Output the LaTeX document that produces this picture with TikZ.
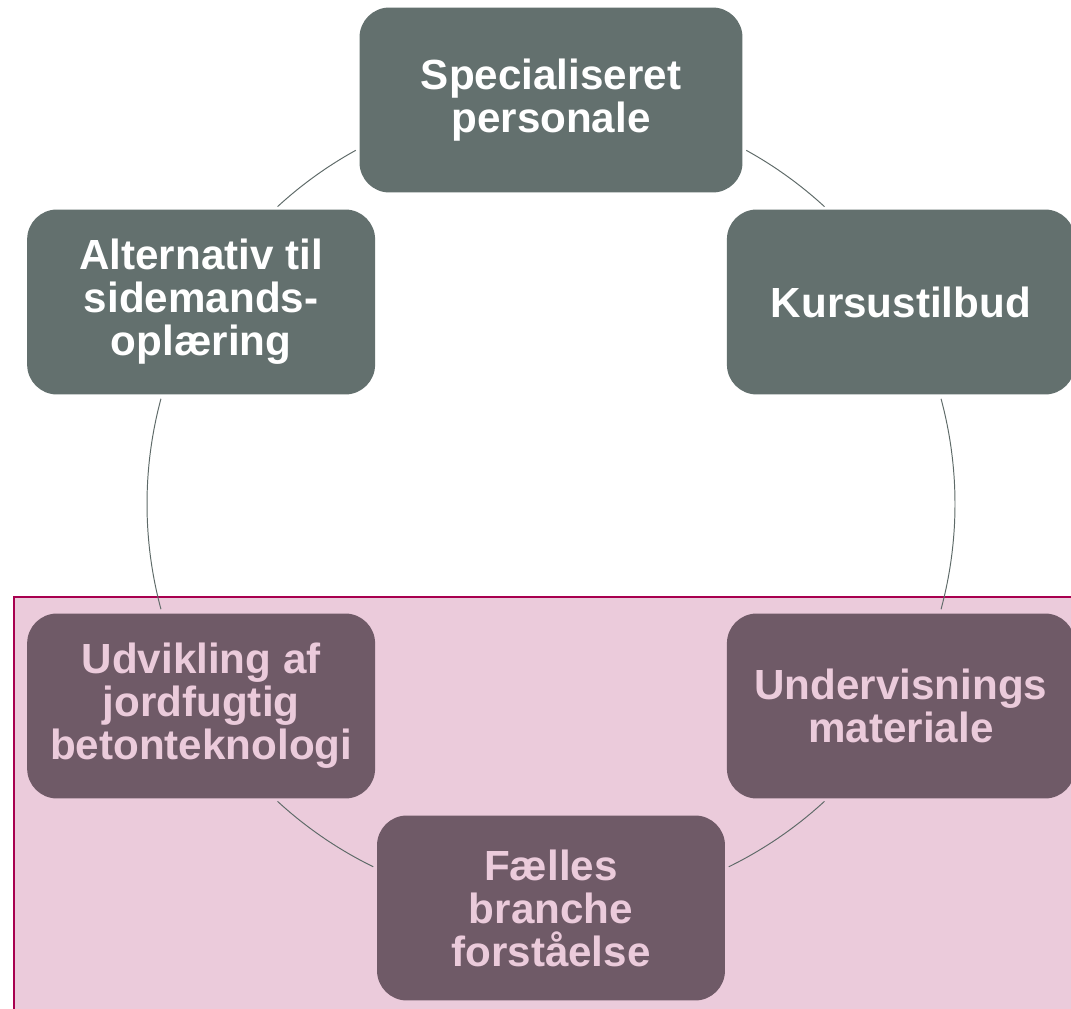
\documentclass[tikz,border=0pt]{standalone}
\usepackage{fontspec}
\setmainfont{Liberation Sans}
\usetikzlibrary{calc}
\definecolor{topfill}{HTML}{63706E}
\definecolor{botfill}{HTML}{6F5A67}
\definecolor{pinkbg}{HTML}{EBCBDB}
\definecolor{pinkline}{HTML}{A8004F}
\definecolor{circline}{HTML}{5E6A68}
\begin{document}
\begin{tikzpicture}[x=0.02cm,y=0.02cm,
  box/.style={rounded corners=17pt, minimum width=6.96cm, minimum height=3.7cm,
    inner sep=0pt, align=center, font=\fontsize{24}{24.5}\selectfont\bfseries},
  upbox/.style={box, fill=topfill, text=white},
  lowbox/.style={box, fill=botfill, text=pinkbg},
  circ/.style={draw=circline, line width=0.55pt}]
\useasboundingbox (0,0) rectangle (1071,1008);
\fill[white] (0,0) rectangle (1071,1008);
\draw[fill=pinkbg, draw=pinkline, line width=1.2pt] (14,-20) rectangle (1100,411);
\coordinate (c) at (551,504);
% arcs
\draw[circ] (c) ++(118.9:404) arc[start angle=118.9, end angle=132.6, radius=8.08cm];
\draw[circ] (c) ++(47.4:404) arc[start angle=47.4, end angle=61.1, radius=8.08cm];
\draw[circ] (c) ++(164.9:404) arc[start angle=164.9, end angle=195.1, radius=8.08cm];
\draw[circ] (c) ++(-15.1:404) arc[start angle=-15.1, end angle=15.1, radius=8.08cm];
\draw[circ] (c) ++(227.4:404) arc[start angle=227.4, end angle=243.9, radius=8.08cm];
\draw[circ] (c) ++(296.1:404) arc[start angle=296.1, end angle=312.6, radius=8.08cm];
% nodes
\node[upbox, minimum width=7.66cm] (n1) at ($(c)+(90:404)$) {Specialiseret\\personale};
\node[upbox] (n2) at ($(c)+(30:404)$) {Kursustilbud};
\node[lowbox] (n3) at ($(c)+(-30:404)$) {Undervisnings\\materiale};
\node[lowbox] (n4) at ($(c)+(-90:404)$) {Fælles\\branche\\forståelse};
\node[lowbox] (n5) at ($(c)+(210:404)$) {Udvikling af\\jordfugtig\\betonteknologi};
\node[upbox] (n6) at ($(c)+(150:404)$) {Alternativ til\\sidemands-\\oplæring};
\end{tikzpicture}
\end{document}
